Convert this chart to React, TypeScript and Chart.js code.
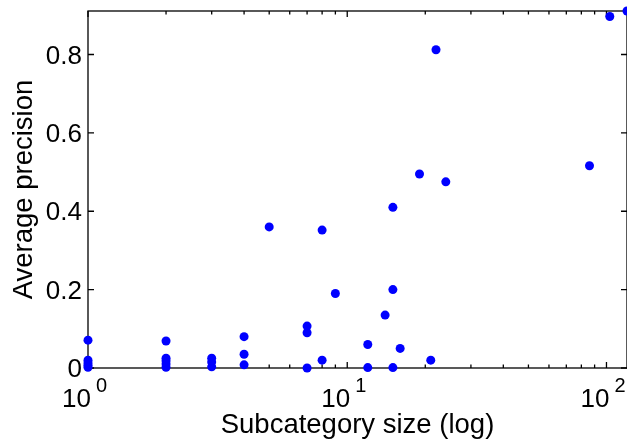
import React, { useEffect, useRef } from 'react';
import { Chart, registerables } from 'chart.js';

Chart.register(...registerables);

// ---- data ----
const subcategorySizes = [
  1, 1, 1, 1, 1,
  2, 2, 2, 2, 2,
  3, 3, 3,
  4, 4, 4,
  5,
  7, 7, 7,
  8, 8,
  9,
  12, 12,
  14,
  15, 15, 15,
  16,
  19,
  21,
  22,
  24,
  86,
  103,
  120,
];
const averagePrecision = [
  0.071, 0.02, 0.013, 0.007, 0.002,
  0.069, 0.025, 0.018, 0.01, 0.002,
  0.025, 0.015, 0.003,
  0.08, 0.035, 0.008,
  0.36,
  0.107, 0.09, 0.0,
  0.352, 0.02,
  0.19,
  0.06, 0.001,
  0.135,
  0.41, 0.2, 0.001,
  0.05,
  0.495,
  0.02,
  0.812,
  0.475,
  0.516,
  0.897,
  0.911,
];
const yTickValues = [0, 0.2, 0.4, 0.6, 0.8];
const xMajorTicks = [1, 10, 100];
const xMinorTicks = [2, 3, 4, 5, 6, 7, 8, 9, 20, 30, 40, 50, 60, 70, 80, 90];
const xTitle = 'Subcategory size (log)';
const yTitle = 'Average precision';
const X_MIN = 1;
const X_MAX = 120;
const Y_MIN = 0;
const Y_MAX = 0.911;

const FONT = '"Liberation Sans", Arial, Helvetica, sans-serif';

const axesPlugin = {
  id: 'matlabAxes',
  beforeDatasetsDraw(chart: any) {
    const { ctx, chartArea: a, scales } = chart;
    const x = scales.x;
    const y = scales.y;
    ctx.save();
    ctx.strokeStyle = '#000';
    ctx.lineWidth = 1.3;
    ctx.strokeRect(a.left, a.top, a.right - a.left, a.bottom - a.top);
    ctx.beginPath();
    const xt = (v: number, len: number) => {
      const px = x.getPixelForValue(v);
      ctx.moveTo(px, a.bottom);
      ctx.lineTo(px, a.bottom - len);
      ctx.moveTo(px, a.top);
      ctx.lineTo(px, a.top + len);
    };
    xMajorTicks.forEach((v) => xt(v, 6));
    xMinorTicks.forEach((v) => xt(v, 3.5));
    yTickValues.forEach((v) => {
      const py = y.getPixelForValue(v);
      ctx.moveTo(a.left, py);
      ctx.lineTo(a.left + 6, py);
      ctx.moveTo(a.right, py);
      ctx.lineTo(a.right - 6, py);
    });
    ctx.stroke();

    // x tick labels: 10^n
    ctx.fillStyle = '#000';
    ctx.textBaseline = 'alphabetic';
    xMajorTicks.forEach((v) => {
      const px = x.getPixelForValue(v);
      const exp = String(Math.round(Math.log10(v)));
      ctx.font = `26px ${FONT}`;
      ctx.textAlign = 'right';
      ctx.fillText('10', px + 3, a.bottom + 39);
      ctx.font = `20px ${FONT}`;
      ctx.textAlign = 'left';
      ctx.fillText(exp, px + 8, a.bottom + 24);
    });
    ctx.restore();
  },
};

export default function App() {
  const canvasRef = useRef<HTMLCanvasElement | null>(null);

  useEffect(() => {
    if (!canvasRef.current) return;
    const chart = new Chart(canvasRef.current, {
      type: 'scatter',
      data: {
        datasets: [
          {
            data: subcategorySizes.map((s, i) => ({ x: s, y: averagePrecision[i] })),
            backgroundColor: '#0000ff',
            borderColor: '#0000ff',
            borderWidth: 0,
            pointRadius: 4.5,
            pointHoverRadius: 4.5,
            clip: false as any,
          },
        ],
      },
      options: {
        animation: false,
        responsive: false,
        events: [],
        layout: { autoPadding: false, padding: { top: 11, right: 0, bottom: 0, left: 0 } },
        plugins: {
          legend: { display: false },
          tooltip: { enabled: false },
        },
        scales: {
          x: {
            type: 'logarithmic',
            min: X_MIN,
            max: X_MAX,
            grid: { display: false, drawTicks: false },
            border: { display: false },
            ticks: { display: false },
            title: {
              display: true,
              text: xTitle,
              color: '#000',
              font: { family: FONT, size: 27.5 },
              padding: { top: 0, bottom: 1 },
            },
            afterFit(scale: any) {
              scale.height = 75;
              scale.paddingLeft = 0;
              scale.paddingRight = 0;
              scale.paddingTop = 0;
              scale.paddingBottom = 0;
            },
          },
          y: {
            type: 'linear',
            min: Y_MIN,
            max: Y_MAX,
            grid: { display: false, drawTicks: false },
            border: { display: false },
            afterBuildTicks(scale: any) {
              scale.ticks = yTickValues.map((v) => ({ value: v }));
            },
            ticks: {
              color: '#000',
              font: { family: FONT, size: 26 },
              padding: 6,
              labelOffset: 2,
              callback: (v: any) => String(Number(v)),
            },
            title: {
              display: true,
              text: yTitle,
              color: '#000',
              font: { family: FONT, size: 27.5 },
              padding: { top: 8, bottom: 0 },
            },
            afterFit(scale: any) {
              scale.width = 88;
              scale.paddingTop = 0;
              scale.paddingBottom = 0;
              scale.paddingLeft = 0;
              scale.paddingRight = 0;
            },
          },
        },
      },
      plugins: [axesPlugin],
    });
    return () => chart.destroy();
  }, []);

  return (
    <div style={{ position: 'absolute', left: 0, top: 0, width: 627, height: 443, background: '#fff' }}>
      <canvas ref={canvasRef} width={627} height={443} style={{ display: 'block' }} />
    </div>
  );
}
